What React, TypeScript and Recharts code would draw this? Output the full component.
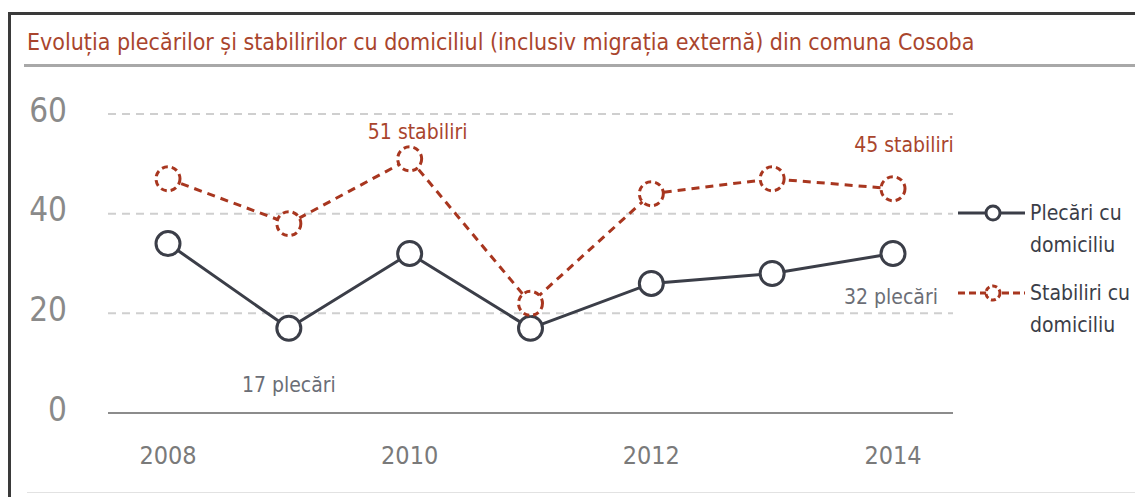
import React from 'react';
import { LineChart, Line, XAxis, YAxis, CartesianGrid, Legend, LabelList } from 'recharts';

const years = ['2008', '2009', '2010', '2011', '2012', '2013', '2014'];
const plecari = [34, 17, 32, 17, 26, 28, 32];
const stabiliri = [47, 38, 51, 22, 44, 47, 45];
const yTicks = [0, 20, 40, 60];
const xTicks = ['2008', '2010', '2012', '2014'];
const plecariLabelYears = ['2009', '2014'];
const stabiliriLabelYears = ['2010', '2014'];

const title = 'Evoluția plecărilor și stabilirilor cu domiciliul (inclusiv migrația externă) din comuna Cosoba';
const legendItems = [
  { key: 'plecari', lines: ['Plecări cu', 'domiciliu'] },
  { key: 'stabiliri', lines: ['Stabiliri cu', 'domiciliu'] },
];

const data = years.map((year, i) => ({ year, plecari: plecari[i], stabiliri: stabiliri[i] }));

const FONT = '"DejaVu Sans Condensed", sans-serif';
const DARK = '#3b3e48';
const RED = '#a8361f';

const PlecariLabel = (props: any) => {
  const { x, y, value, index } = props;
  const year = years[index];
  if (!plecariLabelYears.includes(year)) return null;
  const last = index === years.length - 1;
  return (
    <text x={last ? x - 2 : x} y={last ? y + 50 : y + 64} textAnchor="middle" fontSize={21}
      fontFamily={FONT} fill="#6b6e76">
      {`${value} plecări`}
    </text>
  );
};

const StabiliriLabel = (props: any) => {
  const { x, y, value, index } = props;
  const year = years[index];
  if (!stabiliriLabelYears.includes(year)) return null;
  const last = index === years.length - 1;
  return (
    <text x={last ? x + 11 : x + 8} y={last ? y - 37 : y - 20} textAnchor="middle" fontSize={21}
      fontFamily={FONT} fill="#a9452d">
      {`${value} stabiliri`}
    </text>
  );
};

const YTick = (props: any) => {
  const { x, y, payload } = props;
  return (
    <text x={x} y={y - 4} dy="0.355em" textAnchor="end" fontSize={33} fontFamily={FONT} fill="#8a8a8a">
      {payload.value}
    </text>
  );
};

const LegendContent = () => (
  <svg width={180} height={150}>
    {legendItems.map((item, i) => {
      const cy = 18 + i * 80;
      const isRed = item.key === 'stabiliri';
      const color = isRed ? RED : DARK;
      return (
        <g key={item.key}>
          <line x1={3} x2={70} y1={cy} y2={cy} stroke={color} strokeWidth={3}
            strokeDasharray={isRed ? '7 4' : undefined} />
          <circle cx={38} cy={cy} r={7} fill="#fff" stroke={color} strokeWidth={3}
            strokeDasharray={isRed ? '5 3' : undefined} />
          {item.lines.map((t, j) => (
            <text key={j} x={75} y={cy + 7 + j * 32} fontSize={21} fontFamily={FONT} fill={DARK}>{t}</text>
          ))}
        </g>
      );
    })}
  </svg>
);

export default function App() {
  return (
    <div style={{ position: 'absolute', left: 0, top: 0, width: 1135, height: 497, overflow: 'hidden', background: '#fff' }}>
      <div style={{ position: 'absolute', left: 8, top: 12, width: 1150, height: 490, borderLeft: '3px solid #3a3a3a', borderTop: '3px solid #3a3a3a' }} />
      <div style={{ position: 'absolute', left: 27, top: 492, width: 1108, height: 1, background: '#e2e2e2' }} />
      <div style={{ position: 'absolute', left: 27, top: 29, fontFamily: FONT, fontSize: 23, color: '#a9452d', whiteSpace: 'nowrap' }}>
        {title}
      </div>
      <div style={{ position: 'absolute', left: 24, top: 64, width: 1111, height: 3, background: '#a8a8a8' }} />
      <div style={{ position: 'absolute', left: 0, top: 0 }}>
        <LineChart width={1135} height={497} data={data} margin={{ top: 114, right: 2, bottom: 54, left: 0 }}>
          <CartesianGrid vertical={false} stroke="#cfcfcf" strokeWidth={2} strokeDasharray="8 6" />
          <XAxis dataKey="year" axisLine={{ stroke: '#8c8c8c', strokeWidth: 2 }} tickLine={false} tickSize={0}
            tickMargin={33} tick={{ fontSize: 25, fontFamily: FONT, fill: '#7a7a7a' }} interval={0}
            ticks={xTicks} padding={{ left: 60, right: 60 }} />
          <YAxis domain={[0, 60]} ticks={yTicks} width={108} axisLine={false} tickLine={false} tickSize={0}
            tickMargin={41} tick={<YTick />} />
          <Legend layout="vertical" align="right" verticalAlign="top" content={LegendContent}
            wrapperStyle={{ left: 955, top: 195, width: 180 }} />
          <Line dataKey="plecari" stroke={DARK} strokeWidth={3} isAnimationActive={false}
            dot={{ r: 12, fill: '#fff', stroke: DARK, strokeWidth: 3 }}>
            <LabelList dataKey="plecari" content={PlecariLabel} />
          </Line>
          <Line dataKey="stabiliri" stroke={RED} strokeWidth={3} strokeDasharray="8 6" isAnimationActive={false}
            dot={{ r: 12, fill: '#fff', stroke: RED, strokeWidth: 3, strokeDasharray: '6 4' }}>
            <LabelList dataKey="stabiliri" content={StabiliriLabel} />
          </Line>
        </LineChart>
      </div>
    </div>
  );
}
